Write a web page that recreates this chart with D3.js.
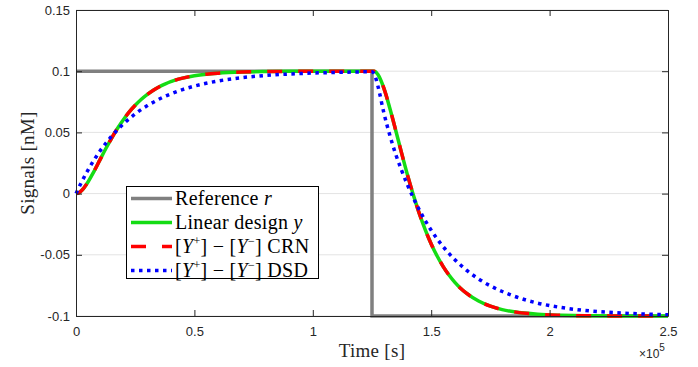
<!DOCTYPE html>
<html><head><meta charset="utf-8">
<script src="https://cdn.jsdelivr.net/npm/d3@7/dist/d3.min.js"></script>
<style>body{margin:0;background:#fff}svg{display:block}</style>
</head><body><svg id="c" width="698" height="367"></svg>
<script>
// ---- data ----
const time = [0,1000,2500,5000,7500,10000,12500,15000,17500,20000,22500,25000,27500,30000,32500,35000,37500,40000,45000,50000,55000,60000,70000,80000,90000,100000,110000,125000,
  126000,127500,130000,132500,135000,137500,140000,142500,145000,147500,150000,152500,155000,157500,160000,162500,165000,170000,175000,180000,185000,195000,205000,215000,225000,235000,250000];
const linearY = [0,0.0005,0.00275,0.0093,0.0178,0.0271,0.0364,0.0452,0.0532,0.0604,0.0668,0.0722,0.0769,0.0809,0.0843,0.0871,0.0894,0.0914,0.0943,0.0963,0.0976,0.0984,0.0993,0.0997,0.0999,0.1,0.1,0.1,
  0.0999,0.0973,0.0862,0.0700,0.0518,0.0331,0.0151,-0.0014,-0.0164,-0.0296,-0.0411,-0.0510,-0.0594,-0.0665,-0.0725,-0.0775,-0.0816,-0.0878,-0.0920,-0.0948,-0.0966,-0.0986,-0.0994,-0.0998,-0.0999,-0.1,-0.1];
const crnY = [0,0.0005,0.00275,0.0093,0.0178,0.0271,0.0364,0.0452,0.0532,0.0604,0.0668,0.0722,0.0769,0.0809,0.0843,0.0871,0.0894,0.0914,0.0943,0.0963,0.0976,0.0984,0.0993,0.0997,0.0999,0.1,0.1,0.1,
  0.0999,0.0973,0.0862,0.0700,0.0518,0.0331,0.0151,-0.0014,-0.0164,-0.0296,-0.0411,-0.0510,-0.0594,-0.0665,-0.0725,-0.0775,-0.0816,-0.0878,-0.0920,-0.0948,-0.0966,-0.0986,-0.0994,-0.0998,-0.0999,-0.1,-0.1];
const dsdY = [0,0.0041,0.0100,0.0190,0.0271,0.0344,0.0409,0.0468,0.0521,0.0569,0.0612,0.0651,0.0686,0.0717,0.0745,0.0771,0.0794,0.0814,0.0850,0.0878,0.0901,0.0920,0.0947,0.0965,0.0977,0.0985,0.0990,0.0995,
  0.0975,0.0878,0.0660,0.0478,0.0322,0.0190,0.0070,-0.0037,-0.0134,-0.0221,-0.0300,-0.0369,-0.0432,-0.0489,-0.0540,-0.0585,-0.0627,-0.0697,-0.0754,-0.0800,-0.0838,-0.0895,-0.0931,-0.0955,-0.0970,-0.0980,-0.0990];
const refTime = [0,125000,125000,250000];
const refY = [0.1,0.1,-0.1,-0.1];
const xTicks = [0,50000,100000,150000,200000,250000];
const xTickLabels = ["0","0.5","1","1.5","2","2.5"];
const yTicks = [-0.1,-0.05,0,0.05,0.1,0.15];
const yTickLabels = ["-0.1","-0.05","0","0.05","0.1","0.15"];

// ---- layout ----
const L=76, R=668, T=10, B=316;
const svg = d3.select("#c");
const x = d3.scaleLinear().domain([0,250000]).range([L,R]);
const y = d3.scaleLinear().domain([-0.1,0.15]).range([B,T]);
const axisColor = "#262626";

// grid
svg.append("g").selectAll("line").data(yTicks).join("line")
  .attr("x1",L).attr("x2",R).attr("y1",d=>y(d)).attr("y2",d=>y(d))
  .attr("stroke","#e3e3e3").attr("stroke-width",1);

// curves
const mk = (xs, ys) => xs.map((t,i)=>[t, ys[i]]);
const lineLin = d3.line().x(d=>x(d[0])).y(d=>y(d[1]));
const lineSmooth = d3.line().x(d=>x(d[0])).y(d=>y(d[1])).curve(d3.curveMonotoneX);
const gC = svg.append("g");
gC.append("path").attr("d", lineLin(mk(refTime,refY))).attr("fill","none")
  .attr("stroke","#808080").attr("stroke-width",3.5);
gC.append("path").attr("d", lineSmooth(mk(time,linearY))).attr("fill","none")
  .attr("stroke","#14dc14").attr("stroke-width",3.5);
gC.append("path").attr("d", lineSmooth(mk(time,crnY))).attr("fill","none")
  .attr("stroke","#ff0000").attr("stroke-width",3.5).attr("stroke-dasharray","15,16");
gC.append("path").attr("d", lineSmooth(mk(time,dsdY))).attr("fill","none")
  .attr("stroke","#0000ff").attr("stroke-width",3.5).attr("stroke-dasharray","3.5,4.5");

// axes
function style(g){
  g.select(".domain").attr("stroke",axisColor);
  g.selectAll(".tick line").attr("stroke",axisColor);
  g.selectAll("text").attr("fill",axisColor).attr("font-family","'Liberation Sans', Arial, sans-serif").attr("font-size","13px");
}
svg.append("g").attr("transform",`translate(0,${B})`)
  .call(d3.axisBottom(x).tickValues(xTicks).tickFormat((d,i)=>xTickLabels[i]).tickSizeInner(-6).tickSizeOuter(0).tickPadding(11)).call(style);
svg.append("g").attr("transform",`translate(0,${T})`)
  .call(d3.axisTop(x).tickValues(xTicks).tickFormat("").tickSizeInner(-6).tickSizeOuter(0)).call(style);
svg.append("g").attr("transform",`translate(${L},0)`)
  .call(d3.axisLeft(y).tickValues(yTicks).tickFormat((d,i)=>yTickLabels[i]).tickSizeInner(-6).tickSizeOuter(0).tickPadding(6)).call(style);
svg.append("g").attr("transform",`translate(${R},0)`)
  .call(d3.axisRight(y).tickValues(yTicks).tickFormat("").tickSizeInner(-6).tickSizeOuter(0)).call(style);

// axis labels
const serif = "'Liberation Serif','Times New Roman',serif";
svg.append("text").attr("x",(L+R)/2).attr("y",357).attr("text-anchor","middle")
  .attr("font-family",serif).attr("font-size","19px").attr("letter-spacing","0.3px").attr("fill",axisColor).text("Time [s]");
svg.append("text").attr("transform",`translate(34,${(T+B)/2}) rotate(-90)`).attr("text-anchor","middle")
  .attr("font-family",serif).attr("font-size","19px").attr("letter-spacing","0.3px").attr("fill",axisColor).text("Signals [nM]");
const ex = svg.append("text").attr("x",639).attr("y",358).attr("font-family","'Liberation Sans',Arial,sans-serif")
  .attr("font-size","12px").attr("fill",axisColor);
ex.append("tspan").text("×10");
ex.append("tspan").attr("dy",-7).attr("font-size","10px").text("5");

// legend
const lg = svg.append("g");
lg.append("rect").attr("x",126.5).attr("y",186.5).attr("width",192).attr("height",92)
  .attr("fill","#fff").attr("stroke","#000").attr("stroke-width",1);
const rows = [
  {c:"#808080", dash:null, parts:[["Reference ",""],["r","italic"]]},
  {c:"#14dc14", dash:null, parts:[["Linear design ",""],["y","italic"]]},
  {c:"#ff0000", dash:"15,16", parts:null, suffix:"CRN"},
  {c:"#0000ff", dash:"3.5,4.5", parts:null, suffix:"DSD"}
];
const rowY = [198.5,222.5,246.5,270.5];
rows.forEach((r,i)=>{
  const yy=rowY[i];
  const ln = lg.append("line").attr("x1",131).attr("x2",172).attr("y1",yy).attr("y2",yy)
    .attr("stroke",r.c).attr("stroke-width",3.5);
  if(r.dash) ln.attr("stroke-dasharray",r.dash);
  const t = lg.append("text").attr("x",175).attr("y",yy+6).attr("font-family",serif)
    .attr("font-size","20px").attr("letter-spacing","0.3px").attr("fill","#000");
  if(r.parts){
    r.parts.forEach(p=>{ const s=t.append("tspan").text(p[0]); if(p[1]) s.attr("font-style","italic"); });
  } else {
    t.append("tspan").text("[");
    t.append("tspan").attr("font-style","italic").text("Y");
    t.append("tspan").attr("dy",-8).attr("font-size","12px").text("+");
    t.append("tspan").attr("dy",8).text("] \u2212 [");
    t.append("tspan").attr("font-style","italic").text("Y");
    t.append("tspan").attr("dy",-8).attr("font-size","12px").text("\u2212");
    t.append("tspan").attr("dy",8).text("] " + r.suffix);
  }
});
</script></body></html>
